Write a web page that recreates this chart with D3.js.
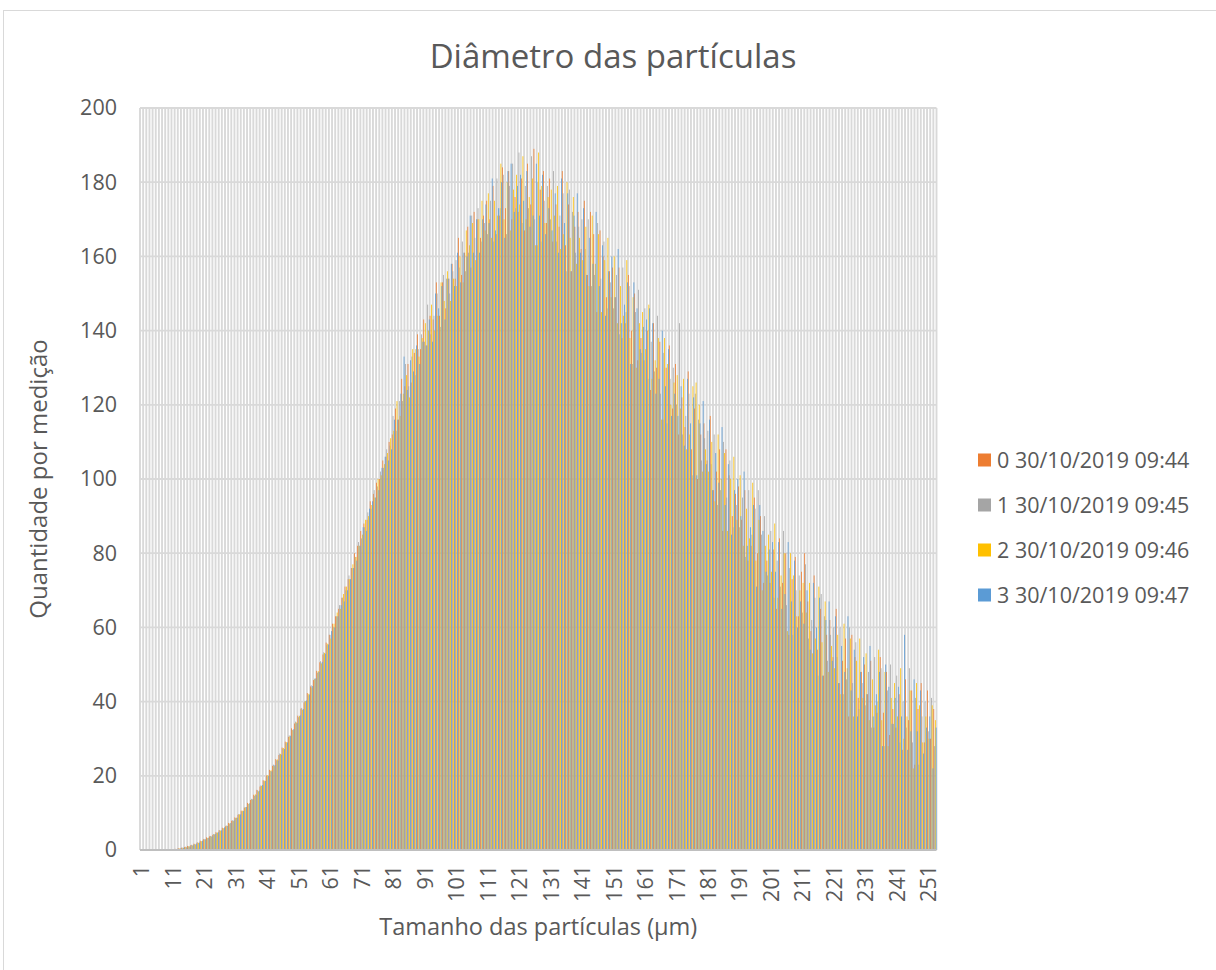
<!DOCTYPE html>
<html>
<head>
<meta charset="utf-8">
<script src="https://cdn.jsdelivr.net/npm/d3@7"></script>
<style>
  html, body { margin: 0; padding: 0; background: #fff; }
  svg { display: block; font-family: "Open Sans", "Noto Sans", sans-serif; }
</style>
</head>
<body>
<svg id="chart" width="1216" height="970"></svg>
<script>
const title = "Diâmetro das partículas";
const xTitle = "Tamanho das partículas (µm)";
const yTitle = "Quantidade por medição";
const categories = d3.range(1, 254);
const xTickLabels = [1, 11, 21, 31, 41, 51, 61, 71, 81, 91, 101, 111, 121, 131, 141, 151, 161, 171, 181, 191, 201, 211, 221, 231, 241, 251];
const yTicks = [0, 20, 40, 60, 80, 100, 120, 140, 160, 180, 200];
const seriesNames = ["0 30/10/2019 09:44", "1 30/10/2019 09:45", "2 30/10/2019 09:46", "3 30/10/2019 09:47"];
const colors = ["#ED7D31", "#A5A5A5", "#FFC000", "#5B9BD5"];

const s0 = [
0,0,0,0,0,0,0,0,0,0,
0.2,0.3,0.5,0.6,0.8,1.1,1.3,1.7,2.0,2.5,
2.9,3.4,3.7,4.1,4.8,5.3,6.0,6.4,7.3,7.9,
8.8,9.5,10.6,11.4,12.7,13.5,14.9,16.2,17.1,18.8,
20.1,21.6,22.7,24.5,25.6,27.6,29.2,30.5,32.8,34.1,
36.2,38.1,39.8,42.3,44.1,45.8,48.3,50.6,52.7,55.9,
58,61,63,65,68,71,73,76,80,82,
86,88,89,94,96,99,100,105,106,110,
112,119,116,127,125,131,126,134,139,135,
143,136,144,143,153,144,153,146,154,158,
154,165,155,161,168,157,172,170,165,171,
175,170,179,166,171,184,173,183,170,176,
172,181,167,185,174,189,163,178,183,169,
181,164,174,168,183,163,174,156,168,172,
162,175,155,172,166,145,167,160,149,156,
157,149,157,138,142,155,140,150,132,138,
132,140,124,142,130,137,116,130,136,119,
131,112,122,114,129,108,119,100,112,115,
105,117,97,102,108,86,108,101,90,96,
98,89,97,78,82,95,80,90,72,78,
72,81,65,84,72,80,58,73,79,63,
75,80,67,59,74,54,65,47,58,62,
52,65,45,51,57,36,58,52,41,48,
50,42,51,33,37,52,37,48,31,38,
33,42,27,46,35,43,23,38,45,29,
43,30,38];

const s1 = [
0,0,0,0,0,0,0,0,0,0,
0.1,0.3,0.4,0.7,0.9,1.0,1.4,1.6,2.1,2.3,
3.0,3.2,3.8,4.3,4.6,5.4,5.8,6.6,7.1,8.0,
8.6,9.7,10.4,11.6,12.4,13.8,14.6,16.1,17.4,18.5,
19.8,21.3,23.0,24.2,26.0,27.3,28.8,30.9,32.4,34.6,
35.8,38.3,40.2,41.7,44.4,46.2,47.8,50.9,53.3,55.2,
58,60,63,66,68,70,74,76,79,83,
84,87,91,92,97,98,102,103,108,109,
117,113,121,121,131,125,133,128,135,139,
137,147,139,144,150,141,155,154,150,156,
159,157,164,156,161,171,165,173,164,169,
166,175,164,181,173,182,166,179,185,173,
188,169,179,173,187,170,180,164,175,179,
170,183,164,171,177,156,178,172,161,168,
170,162,170,152,155,169,154,164,146,153,
146,155,139,157,145,152,131,145,151,134,
146,127,137,129,144,123,134,115,127,130,
120,142,112,117,123,101,123,116,105,111,
113,104,112,93,97,110,95,105,87,93,
87,95,79,97,85,92,97,85,90,74,
86,68,78,71,86,66,76,58,70,74,
64,77,57,62,68,47,69,63,51,58,
60,52,60,42,46,60,45,56,38,45,
39,48,33,52,40,49,28,43,50,34,
47,29,40,33,49,29,41,23,36,40,
32,41,28];

const s2 = [
0,0,0,0,0,0,0,0,0,0,
0.2,0.2,0.4,0.5,0.8,1.0,1.2,1.5,1.9,2.4,
2.8,3.3,3.6,4.2,4.7,5.2,5.9,6.5,7.2,7.8,
8.7,9.6,10.6,11.5,12.5,13.6,15.0,15.8,17.3,18.7,
20.2,21.5,22.6,24.4,25.9,27.5,29.1,30.6,32.3,34.4,
36.1,37.8,40.1,42.1,43.8,46.1,48.2,50.3,53.1,55.6,
57,61,64,65,69,71,73,77,79,82,
85,89,90,93,95,100,101,104,107,111,
113,121,117,123,128,122,135,135,133,138,
142,140,147,140,144,153,148,156,148,154,
152,160,153,167,163,169,159,170,175,167,
177,165,175,171,185,170,180,167,178,182,
174,187,170,176,181,163,188,179,169,176,
178,171,179,162,166,180,165,176,158,165,
159,168,152,171,158,166,145,159,165,149,
160,142,152,144,159,138,149,130,142,145,
135,147,127,132,138,116,138,131,120,126,
128,119,127,108,112,125,126,120,102,108,
102,110,94,112,100,107,86,100,106,89,
101,82,92,84,99,78,89,70,82,85,
75,88,68,74,80,59,80,74,63,70,
72,64,72,53,57,71,56,67,48,55,
49,58,42,61,49,57,36,51,57,41,
53,35,46,39,54,35,48,28,41,45,
36,49,30,36,43,22,45,39,29,36,
30,39,35];

const s3 = [
0,0,0,0,0,0,0,0,0,0,
0.2,0.3,0.4,0.6,0.7,0.9,1.3,1.7,2.0,2.5,
2.9,3.3,3.7,4.3,4.8,5.3,6.1,6.5,7.3,8.0,
8.7,9.6,10.5,11.6,12.6,13.7,14.8,16.0,17.5,18.6,
20.0,21.2,22.9,24.1,25.7,27.2,29.0,30.8,32.6,34.2,
36.3,38.0,40.3,41.9,44.2,46.3,48.0,50.7,52.9,55.4,
59,60,63,66,67,70,73,76,78,82,
87,86,92,94,95,97,103,106,105,108,
116,116,123,133,124,132,129,136,131,137,
136,143,137,150,146,152,143,154,158,152,
161,153,161,160,171,161,170,161,170,174,
169,181,167,173,180,165,183,185,172,179,
182,175,183,168,171,185,171,182,166,173,
167,177,161,181,169,177,156,171,177,161,
173,155,165,158,172,152,163,144,156,160,
149,162,142,147,153,131,153,146,135,141,
143,146,142,123,127,140,125,135,117,123,
117,125,109,127,115,122,101,115,121,104,
116,97,107,99,114,93,104,85,97,100,
90,102,82,87,93,71,93,86,75,81,
83,75,83,65,69,83,67,78,60,67,
61,70,54,72,60,68,47,62,67,51,
63,45,55,48,63,43,54,36,48,52,
42,55,36,42,48,28,50,44,34,41,
44,36,58,27,32,46,32,43,26,33,
36,22,33];

const allSeries = [s0, s1, s2, s3];

const svg = d3.select("#chart");
const textColor = "#595959";
const gridColor = "#d9d9d9";

const plot = { left: 140, right: 936.5, top: 108, bottom: 850 };

// chart-area border
svg.append("rect")
  .attr("x", 3.5).attr("y", 10.5)
  .attr("width", 1230).attr("height", 980)
  .attr("fill", "#fff").attr("stroke", "#d9d9d9").attr("stroke-width", 1);

const x = d3.scaleBand().domain(categories).range([plot.left, plot.right]).paddingInner(0).paddingOuter(0);
const xs = d3.scaleBand().domain(d3.range(allSeries.length)).range([0, x.bandwidth()]).padding(0);
const y = d3.scaleLinear().domain([0, 200]).range([plot.bottom, plot.top]);

// vertical category gridlines
const bounds = categories.map(c => x(c)).concat([x(categories[categories.length - 1]) + x.bandwidth()]);
svg.append("g").selectAll("line").data(bounds).join("line")
  .attr("x1", d => d).attr("x2", d => d)
  .attr("y1", plot.top).attr("y2", plot.bottom)
  .attr("stroke", gridColor).attr("stroke-width", 1.9);

// horizontal gridlines
svg.append("g").selectAll("line").data(yTicks.filter(v => v > 0)).join("line")
  .attr("x1", plot.left).attr("x2", plot.right)
  .attr("y1", d => y(d)).attr("y2", d => y(d))
  .attr("stroke", gridColor).attr("stroke-width", 1.8);

// bars
const barsG = svg.append("g");
allSeries.forEach((vals, si) => {
  barsG.append("g").attr("fill", colors[si])
    .selectAll("rect").data(vals.map((v, i) => ({ c: categories[i], v })))
    .join("rect")
    .attr("x", d => x(d.c) + xs(si))
    .attr("width", xs.bandwidth())
    .attr("y", d => y(d.v))
    .attr("height", d => y(0) - y(d.v));
});

// x axis line
svg.append("line")
  .attr("x1", plot.left).attr("x2", plot.right)
  .attr("y1", plot.bottom).attr("y2", plot.bottom)
  .attr("stroke", "#bfbfbf").attr("stroke-width", 1.8);

// y axis labels
const yAxis = svg.append("g").attr("transform", `translate(${plot.left},0)`)
  .call(d3.axisLeft(y).tickValues(yTicks).tickSize(0).tickPadding(23));
yAxis.select(".domain").remove();
yAxis.selectAll("text").attr("fill", textColor).style("font-size", "21.5px")
  .style("font-family", "'Open Sans', sans-serif");

// x axis labels
const xAxis = svg.append("g").attr("transform", `translate(0,${plot.bottom})`)
  .call(d3.axisBottom(x).tickValues(xTickLabels).tickSize(0));
xAxis.select(".domain").remove();
xAxis.selectAll("text")
  .attr("fill", textColor).style("font-size", "21.5px")
  .style("font-family", "'Open Sans', sans-serif")
  .attr("y", 0).attr("x", -15).attr("dy", "0.36em")
  .attr("transform", "rotate(-90)")
  .style("text-anchor", "end");

// titles
svg.append("text").attr("x", 613).attr("y", 68).attr("text-anchor", "middle")
  .attr("fill", textColor).style("font-size", "33px").text(title);

svg.append("text").attr("x", (plot.left + plot.right) / 2).attr("y", 935).attr("text-anchor", "middle")
  .attr("fill", textColor).style("font-size", "23.5px").text(xTitle);

svg.append("text")
  .attr("transform", `translate(47,${(plot.top + plot.bottom) / 2}) rotate(-90)`)
  .attr("text-anchor", "middle")
  .attr("fill", textColor).style("font-size", "24px").text(yTitle);

// legend
const legend = svg.append("g");
seriesNames.forEach((name, i) => {
  const cy = 460 + i * 45;
  legend.append("rect").attr("x", 978).attr("y", cy - 6.5).attr("width", 13).attr("height", 13).attr("fill", colors[i]);
  legend.append("text").attr("x", 997).attr("y", cy).attr("dy", "0.36em")
    .attr("fill", textColor).style("font-size", "21.5px").text(name);
});
</script>
</body>
</html>
